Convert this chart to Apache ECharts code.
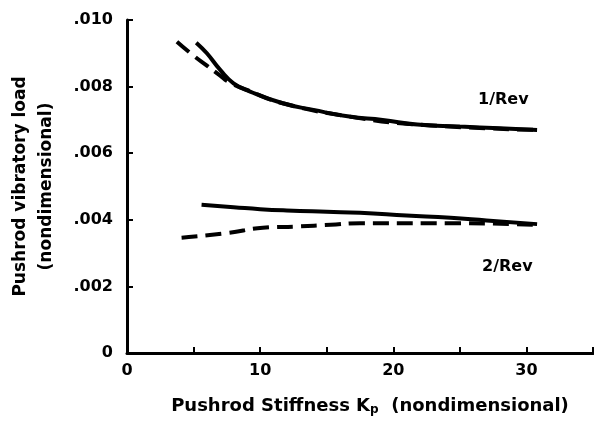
<!DOCTYPE html>
<html><head><meta charset="utf-8">
<script src="https://cdn.jsdelivr.net/npm/echarts@6/dist/echarts.min.js"></script>
<style>html,body{margin:0;padding:0;background:#fff}#c{width:594px;height:428px}</style>
</head><body><div id="c"></div>
<script>
// Data
var rev1Solid = [[5.2,0.00932],[6,0.0090],[7,0.0085],[8,0.0081],[9.25,0.00785],[11.7,0.0075],[14,0.0073],[16.7,0.0071],[19.2,0.0070],[21.8,0.00686],[25,0.0068],[28,0.00675],[30.8,0.0067]];
var rev1Dashed = [[3.75,0.00935],[5,0.00893],[6,0.00863],[7,0.00833],[7.6,0.00815],[9,0.0079],[11.7,0.0075],[16.7,0.0071],[21.8,0.00686],[30.8,0.0067]];
var rev2Solid = [[5.6,0.00445],[8,0.00438],[10,0.00432],[12,0.00428],[15,0.00424],[17.5,0.00421],[21,0.00413],[24.3,0.00406],[27,0.00398],[30.8,0.00387]];
var rev2Dashed = [[4.1,0.00346],[7.5,0.0036],[10.2,0.00376],[12.8,0.0038],[15.3,0.00385],[17.5,0.0039],[24.3,0.0039],[30.8,0.00385]];
var xTickLabels = ['0','10','20','30'];
var yTickLabels = ['0','.002','.004','.006','.008','.010'];
var seriesNames = ['1/Rev','2/Rev'];

var font = 'DejaVu Sans';
var chart = echarts.init(document.getElementById('c'));
function ln(name, data, dashed){
  return {name:name, type:'line', data:data, smooth:true, symbol:'none',
    lineStyle:{color:'#000', width:4, type: dashed ? [16,8] : 'solid'}};
}
chart.setOption({
  animation:false,
  grid:{left:127, right:1, top:20, bottom:75, containLabel:false, outerBoundsMode:'none'},
  xAxis:{type:'value', min:0, max:35, interval:5,
    axisLine:{lineStyle:{color:'#000', width:3}},
    axisTick:{inside:true, length:6, lineStyle:{color:'#000', width:2}},
    splitLine:{show:false},
    axisLabel:{color:'#000', fontFamily:font, fontWeight:'bold', fontSize:16, margin:10,
      formatter:function(v){ var i = xTickLabels.indexOf(String(v)); return i>=0 ? xTickLabels[i] : ''; }},
    name:'Pushrod Stiffness K{sub|p}  (nondimensional)', nameLocation:'middle', nameGap:43,
    nameTextStyle:{color:'#000', fontFamily:font, fontWeight:'bold', fontSize:18, padding:[0,0,0,20],
      rich:{sub:{fontFamily:font, fontWeight:'bold', fontSize:12, color:'#000', verticalAlign:'bottom', padding:[8,0,0,0]}}}
  },
  yAxis:{type:'value', min:0, max:0.010, interval:0.002,
    axisLine:{show:true, lineStyle:{color:'#000', width:3}},
    axisTick:{show:true, inside:true, length:6, lineStyle:{color:'#000', width:2}},
    splitLine:{show:false},
    axisLabel:{color:'#000', fontFamily:font, fontWeight:'bold', fontSize:16, margin:14,
      formatter:function(v){ return yTickLabels[Math.round(v/0.002)]; }},
    name:'Pushrod vibratory load\n(nondimensional)', nameLocation:'middle', nameGap:67, nameRotate:90,
    nameTextStyle:{color:'#000', fontFamily:font, fontWeight:'bold', fontSize:17, lineHeight:26}
  },
  series:[ln(seriesNames[0],rev1Solid,false), ln(seriesNames[0],rev1Dashed,true),
          ln(seriesNames[1],rev2Solid,false), ln(seriesNames[1],rev2Dashed,true)],
  graphic:[
    {type:'text', left:478, top:92, style:{text:seriesNames[0], fill:'#000', font:'bold 16px "DejaVu Sans"'}},
    {type:'text', left:482, top:259, style:{text:seriesNames[1], fill:'#000', font:'bold 16px "DejaVu Sans"'}}
  ]
});
</script></body></html>
